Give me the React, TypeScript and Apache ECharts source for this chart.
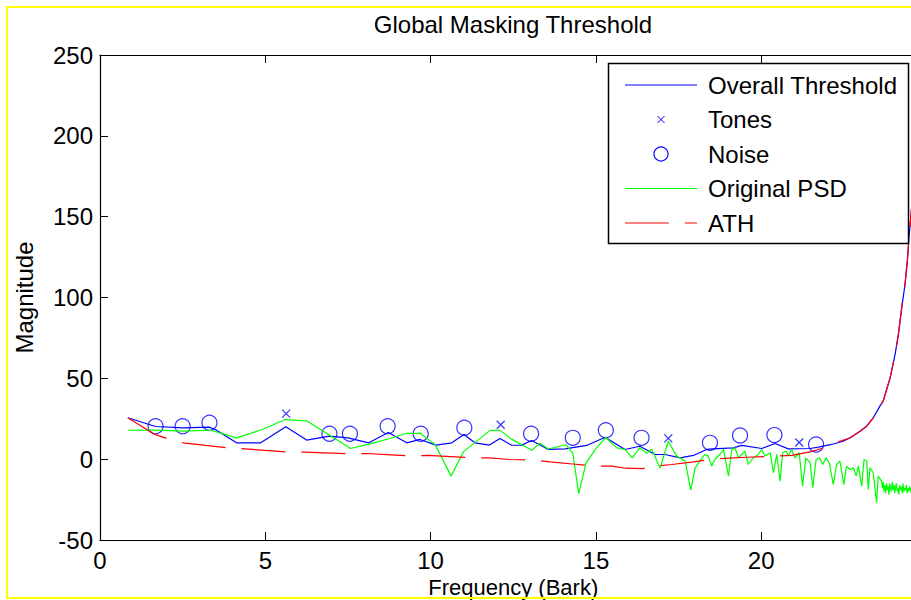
import React, { useEffect, useRef } from "react";
import * as echarts from "echarts";

const FONT = "'Liberation Sans', Arial, Helvetica, sans-serif";

const xTickValues = [0, 5, 10, 15, 20];
const yTickValues = [-50, 0, 50, 100, 150, 200, 250];

const overallX = [0.84, 1.68, 2.52, 3.3, 3.5, 4.13, 4.86, 5.62, 6.25, 6.94, 7.5, 8.13, 8.72, 9.28, 9.68, 10.16, 10.64, 11.01, 11.34, 11.78, 12.1, 12.45, 12.75, 13.06, 13.56, 14.07, 14.72, 15.28, 15.88, 16.33, 16.79, 17.09, 17.55, 17.95, 18.35, 18.55, 19.16, 19.41, 20.02, 20.42, 20.82, 21.48, 21.73, 22.13, 22.48, 22.69, 22.99, 23.19, 23.39, 23.59, 23.69, 23.9, 24.05, 24.15, 24.25, 24.35, 24.42, 24.47, 24.52, 24.6];
const overallY = [25.6, 20.2, 19.4, 19.8, 18.2, 10.1, 10.1, 20.0, 11.8, 14.2, 13.2, 10.1, 16.5, 10.1, 12.2, 8.7, 10.1, 15.3, 10.1, 8.7, 12.8, 8.6, 8.7, 11.5, 6.0, 6.4, 8.5, 13.6, 6.0, 8.0, 2.9, 2.9, 0.8, 2.3, 6.0, 6.4, 7.0, 8.5, 6.6, 9.7, 6.4, 6.6, 7.4, 9.1, 11.1, 13.2, 17.3, 20.4, 25.6, 32.8, 35.9, 50.3, 64.8, 77.2, 93.6, 108.1, 122.5, 137, 148.3, 168];

const tonesX = [5.63, 12.12, 17.19, 21.15];
const tonesY = [28.2, 21.3, 12.9, 10.3];

const noiseX = [1.68, 2.5, 3.31, 6.94, 7.56, 8.7, 9.7, 11.02, 13.04, 14.3, 15.3, 16.38, 18.45, 19.36, 20.4, 21.66];
const noiseY = [20.4, 20.4, 22.5, 15.7, 15.7, 20.4, 15.7, 19.4, 15.7, 13.2, 17.9, 13.2, 10.1, 14.7, 14.9, 9.1];

const psdX = [0.84, 1.68, 2.52, 3.35, 4.13, 4.89, 5.6, 6.25, 7.58, 8.17, 8.77, 9.28, 9.68, 10.14, 10.62, 10.99, 11.8, 12.1, 12.45, 13.06, 13.31, 13.56, 14.1, 14.3, 14.48, 14.7, 15.0, 15.3, 15.63, 15.88, 16.1, 16.32, 16.54, 16.69, 16.94, 17.19, 17.44, 17.7, 17.87, 18.0, 18.2, 18.3, 18.4, 18.5, 18.6, 18.75, 18.86, 19.01, 19.11, 19.21, 19.31, 19.41, 19.51, 19.61, 19.76, 19.91, 20.01, 20.12, 20.27, 20.37, 20.47, 20.57, 20.65, 20.75, 20.82, 20.92, 21.02, 21.15, 21.25, 21.35, 21.48, 21.56, 21.66, 21.76, 21.86, 21.96, 22.06, 22.18, 22.28, 22.38, 22.5, 22.58, 22.69, 22.79, 22.87, 22.94, 23.04, 23.11, 23.19, 23.24, 23.29, 23.39, 23.49, 23.54, 23.64, 23.665, 23.69, 23.715, 23.74, 23.765, 23.79, 23.815, 23.84, 23.865, 23.89, 23.915, 23.94, 23.965, 23.99, 24.015, 24.04, 24.065, 24.09, 24.115, 24.14, 24.165, 24.19, 24.215, 24.24, 24.265, 24.29, 24.315, 24.34, 24.365, 24.39, 24.415, 24.44, 24.465, 24.49, 24.515, 24.54, 24.565];
const psdY = [17.9, 18.0, 17.3, 17.9, 13.2, 18.2, 24.5, 23.7, 6.6, 9.5, 12.8, 16.0, 16.0, 9.0, -10.5, 4.5, 17.8, 17.8, 12.4, 5.5, 9.9, 6.3, 8.9, 3.7, -21.3, -2.5, 6.5, 13.4, 7.0, 6.0, 0.8, 7.0, 3.7, 6.2, -5.5, 11.1, 1.9, -1.2, -19.2, -5.4, 0.5, 2.9, 1.9, -4.3, -0.2, 2.9, 6.0, -10.5, 6.0, 7.0, 0.8, 2.9, 5.0, -3.3, 0.8, 2.9, 6.0, 1.9, 4.0, -8.4, 2.9, -13.6, 4.0, 5.0, 1.9, 6.0, 0.8, 4.0, -16.7, 0.8, -2.3, -17.7, -0.2, 0.8, -3.3, 0.8, -2.3, -15.7, -3.3, -1.2, -15.7, -4.3, -6.4, -5.3, -10.5, -4.3, -16.7, -0.2, -1.2, -18.8, -5.3, -8.4, -27.0, -10.5, -13.6, -18, -14, -20, -16, -21, -15, -19, -17, -22, -15, -18, -20, -14, -19, -16, -21, -17, -15, -20, -18, -22, -16, -19, -17, -21, -15, -20, -18, -19, -16, -21, -18, -20, -17, -19, -21];

const athX = [0.84, 1.66, 2.05, 2.52, 3.2, 3.88, 4.39, 5.0, 5.73, 6.2, 7.56, 8.07, 8.8, 9.43, 9.93, 10.6, 11.29, 11.78, 12.4, 13.16, 13.61, 14.3, 14.99, 15.48, 15.9, 16.4, 16.84, 17.29, 17.9, 18.45, 19.0, 19.56, 20.42, 20.92, 21.48, 21.83, 22.13, 22.38, 22.69, 22.99, 23.19, 23.39, 23.59, 23.69, 23.9, 24.05, 24.15, 24.25, 24.35, 24.42, 24.47, 24.52, 24.6];
const athY = [25.6, 15.3, 12.6, 10.1, 8.5, 7.0, 6.4, 5.4, 4.3, 4.3, 3.3, 3.5, 2.7, 1.9, 2.3, 1.6, 0.8, 0.8, -0.2, -0.6, -1.7, -3.0, -4.3, -4.3, -5.6, -5.8, -4.3, -3.3, -1.8, -0.2, 0.6, 1.2, 1.9, 2.3, 4.5, 6.6, 8.5, 11.1, 13.2, 17.3, 20.4, 25.6, 32.8, 35.9, 50.3, 64.8, 77.2, 93.6, 108.1, 122.5, 137, 148.3, 168];

const legendNames = ["Overall Threshold", "Tones", "Noise", "Original PSD", "ATH"];

const zip = (xs: number[], ys: number[]) => xs.map((x, i) => [x, ys[i]]);

const BLUE = "#0000ff";
const GREEN = "#00ff00";
const RED = "#ff0000";
const DASH = [44, 16];

export default function App() {
  const ref = useRef<HTMLDivElement>(null);
  useEffect(() => {
    if (!ref.current) return;
    const chart = echarts.init(ref.current, undefined, { renderer: "svg" });

    const axisText = { color: "#000", fontSize: 24, fontFamily: FONT };
    const legendX0 = 625;
    const legendX1 = 697;
    const legendRowY = (i: number) => 85 + i * 34.5;

    const legendGraphics: any[] = [
      {
        type: "rect",
        z: 100,
        shape: { x: 608.5, y: 63.5, width: 300, height: 180 },
        style: { fill: "#fff", stroke: "#000", lineWidth: 1.5 },
      },
    ];
    legendNames.forEach((name, i) => {
      const y = legendRowY(i);
      legendGraphics.push({
        type: "text",
        z: 101,
        x: 708,
        y,
        style: { text: name, fill: "#000", font: `24px ${FONT}`, textVerticalAlign: "middle", verticalAlign: "middle" },
      });
    });
    legendGraphics.push(
      { type: "line", z: 101, shape: { x1: legendX0, y1: legendRowY(0), x2: legendX1, y2: legendRowY(0) }, style: { stroke: BLUE, lineWidth: 1.2 } },
      { type: "line", z: 101, shape: { x1: 657.5, y1: legendRowY(1) - 3.5, x2: 664.5, y2: legendRowY(1) + 3.5 }, style: { stroke: BLUE, lineWidth: 1 } },
      { type: "line", z: 101, shape: { x1: 664.5, y1: legendRowY(1) - 3.5, x2: 657.5, y2: legendRowY(1) + 3.5 }, style: { stroke: BLUE, lineWidth: 1 } },
      { type: "circle", z: 101, shape: { cx: 661, cy: legendRowY(2), r: 7 }, style: { fill: "none", stroke: BLUE, lineWidth: 1.2 } },
      { type: "line", z: 101, shape: { x1: legendX0, y1: legendRowY(3), x2: legendX1, y2: legendRowY(3) }, style: { stroke: GREEN, lineWidth: 1.2 } },
      { type: "line", z: 101, shape: { x1: legendX0, y1: legendRowY(4), x2: legendX1, y2: legendRowY(4) }, style: { stroke: RED, lineWidth: 1.2, lineDash: DASH } }
    );

    const option: any = {
      animation: false,
      backgroundColor: "#fff",
      title: {
        text: "Global Masking Threshold",
        left: 513,
        top: 12,
        textAlign: "center",
        padding: 0,
        textStyle: { color: "#000", fontSize: 24, fontWeight: "normal", fontFamily: FONT },
      },
      grid: { left: 100, top: 55, width: 826.5, height: 485, outerBoundsMode: "none", containLabel: false },
      xAxis: [
        {
          type: "value",
          min: 0,
          max: 25,
          interval: 5,
          position: "bottom",
          name: "Frequency (Bark)",
          nameLocation: "middle",
          nameGap: 35,
          nameMoveOverlap: false,
          nameTextStyle: { ...axisText, fontSize: 22, lineHeight: 24 },
          axisLine: { show: true, onZero: false, lineStyle: { color: "#000", width: 1.2 } },
          axisTick: { show: true, inside: true, length: 8, lineStyle: { color: "#000" } },
          axisLabel: { ...axisText, lineHeight: 24, margin: 8, showMaxLabel: false, formatter: (v: number) => (xTickValues.includes(v) ? String(v) : "") },
          splitLine: { show: false },
        },
        {
          type: "value",
          min: 0,
          max: 25,
          interval: 5,
          position: "top",
          axisLine: { show: true, onZero: false, lineStyle: { color: "#000", width: 1.2 } },
          axisTick: { show: true, inside: true, length: 8, lineStyle: { color: "#000" } },
          axisLabel: { show: false },
          splitLine: { show: false },
        },
      ],
      yAxis: [
        {
          type: "value",
          min: -50,
          max: 250,
          interval: 50,
          position: "left",
          name: "Magnitude",
          nameLocation: "middle",
          nameGap: 64,
          nameMoveOverlap: false,
          nameTextStyle: axisText,
          axisLine: { show: true, onZero: false, lineStyle: { color: "#000", width: 1.2 } },
          axisTick: { show: true, inside: true, length: 8, lineStyle: { color: "#000" } },
          axisLabel: { ...axisText, margin: 7, formatter: (v: number) => (yTickValues.includes(v) ? String(v) : "") },
          splitLine: { show: false },
        },
        {
          type: "value",
          min: -50,
          max: 250,
          interval: 50,
          position: "right",
          axisLine: { show: true, onZero: false, lineStyle: { color: "#000", width: 1.2 } },
          axisTick: { show: true, inside: true, length: 8, lineStyle: { color: "#000" } },
          axisLabel: { show: false },
          splitLine: { show: false },
        },
      ],
      series: [
        {
          name: "Overall Threshold",
          type: "line",
          data: zip(overallX, overallY),
          symbol: "none",
          silent: true,
          lineStyle: { color: BLUE, width: 1.2 },
        },
        {
          name: "Tones",
          type: "scatter",
          data: zip(tonesX, tonesY),
          symbol: "path://M0,0L10,10M10,0L0,10",
          symbolSize: 8,
          silent: true,
          itemStyle: { color: "rgba(0,0,0,0)", borderColor: BLUE, borderWidth: 1.2 },
        },
        {
          name: "Noise",
          type: "scatter",
          data: zip(noiseX, noiseY),
          symbol: "circle",
          symbolSize: 15,
          silent: true,
          itemStyle: { color: "rgba(0,0,0,0)", borderColor: BLUE, borderWidth: 1.2 },
        },
        {
          name: "Original PSD",
          type: "line",
          data: zip(psdX, psdY),
          symbol: "none",
          silent: true,
          lineStyle: { color: GREEN, width: 1.2 },
        },
        {
          name: "ATH",
          type: "line",
          data: zip(athX, athY),
          symbol: "none",
          silent: true,
          lineStyle: { color: RED, width: 1.2, type: DASH },
        },
      ],
      graphic: [
        {
          type: "rect",
          z: 200,
          silent: true,
          shape: { x: 7, y: 7, width: 950, height: 591 },
          style: { fill: "none", stroke: "#ffff00", lineWidth: 2 },
        },
        ...legendGraphics,
      ],
    };
    chart.setOption(option);
    return () => chart.dispose();
  }, []);

  return (
    <div
      ref={ref}
      style={{ position: "fixed", left: 0, top: 0, width: 911, height: 600, background: "#fff" }}
    />
  );
}
